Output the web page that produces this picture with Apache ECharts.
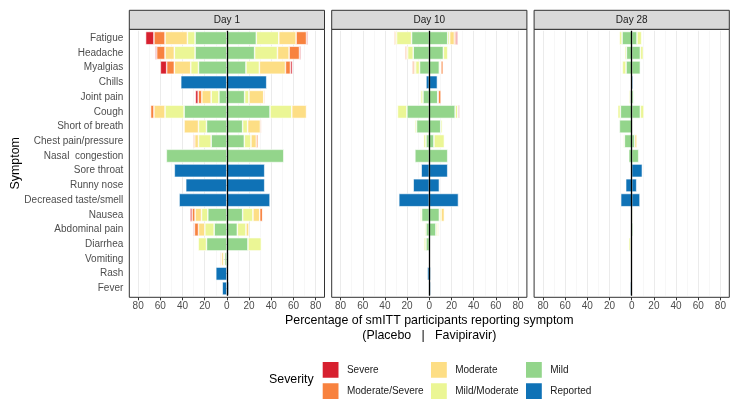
<!DOCTYPE html>
<html><head><meta charset="utf-8">
<script src="https://cdn.jsdelivr.net/npm/echarts@6/dist/echarts.min.js"></script>
<style>html,body{margin:0;padding:0;background:#fff}#c{width:740px;height:408px}</style>
</head><body><div id="c"></div>
<script>
// ---------- DATA ----------
const categories = ['Fatigue','Headache','Myalgias','Chills','Joint pain','Cough','Short of breath','Chest pain/pressure','Nasal  congestion','Sore throat','Runny nose','Decreased taste/smell','Nausea','Abdominal pain','Diarrhea','Vomiting','Rash','Fever'];
const panels = ['Day 1','Day 10','Day 28'];
const severities = ['Mild','Mild/Moderate','Moderate','Moderate/Severe','Severe','Reported'];
const xTicks = [-80,-60,-40,-20,0,20,40,60,80];

// Day 1 — Placebo (shown to the left)
const d1_plc_mild = [28.7,28.7,25.6,0,7.2,38.6,18.4,14.2,54.6,0,0,0,17.2,11.5,18.4,2.0,0,0];
const d1_plc_mm   = [6.9,18.7,7.0,0,7.0,17.2,7.2,11.4,0,0,0,0,5.7,8.4,7.5,1.0,0,0];
const d1_plc_mod  = [20.2,8.4,14.8,0,8.4,10.0,13.0,3.4,0,0,0,0,5.8,5.7,0,2.1,0,0];
const d1_plc_ms   = [10.0,7.5,6.9,0,3.3,3.0,0,1.2,0,0,0,0,2.7,3.7,0,0.9,0,0];
const d1_plc_sev  = [7.5,1.3,5.7,0,2.5,0,0,0,0,0,0,0,1.8,0.9,0,0,0,0];
const d1_plc_rep  = [0,0,0,41.6,0,0,0,0,0,47.4,37.1,43.1,0,0,0,0,10.0,4.2];
// Day 1 — Favipiravir (right)
const d1_fav_mild = [26.5,25.0,17.2,0,16.0,38.9,14.2,15.7,51.3,0,0,0,14.2,9.4,19.0,1.5,0,0];
const d1_fav_mm   = [20.3,20.6,12.1,0,3.9,19.6,4.5,6.0,0,0,0,0,9.3,7.8,12.1,0,0,0];
const d1_fav_mod  = [15.6,10.5,23.5,0,13.3,13.3,11.5,4.8,0,0,0,0,6.1,2.7,0,0,0,0];
const d1_fav_ms   = [9.4,9.4,4.5,0,0.9,0.6,0.9,1.6,0,0,0,0,2.7,0,0,0,0,0];
const d1_fav_sev  = [1.2,1.2,1.8,0,0,0,0,0,0,0,0,0,0.5,0,0,0,0,0];
const d1_fav_rep  = [0,0,0,35.9,0,0,0,0,0,34.1,34.1,38.9,0,0,0,0,0,1.8];

// Day 10 — Placebo
const d10_plc_mild = [16.0,14.5,8.8,0,5.7,20.2,11.5,3.0,13.0,0,0,0,6.9,3.0,3.0,0.5,0,0];
const d10_plc_mm   = [13.5,5.0,3.5,0,2.0,8.5,1.5,2.2,0,0,0,0,1.3,1.2,1.8,0,0,0];
const d10_plc_mod  = [1.5,1.0,1.5,0,0.8,0,0,0.5,0,0,0,0,0,0,0,0,0,0];
const d10_plc_ms   = [1.0,1.3,1.5,0,0,0,0,0,0,0,0,0,0,0,0,0,0,0];
const d10_plc_sev  = [0,0,0,0,0,0,0,0,0,0,0,0,0,0,0,0,0,0];
const d10_plc_rep  = [0,0,0,3.0,0,0,0,0,0,7.3,14.5,27.5,0,0,0,0,1.8,0.6];
// Day 10 — Favipiravir
const d10_fav_mild = [16.6,12.7,9.0,0,7.6,23.3,10.3,4.2,16.6,0,0,0,9.1,6.0,0.5,0,0,0];
const d10_fav_mm   = [1.8,3.9,1.0,0,0,2.4,1.5,9.4,0,0,0,0,1.5,1.5,0,0,0,0];
const d10_fav_mod  = [4.2,0,0.5,0,0.5,0,0,0,0,0,0,0,3.0,1.0,0,0,0,0];
const d10_fav_ms   = [1.5,0,2.0,0,2.5,0.5,0,0,0,0,0,0,0,0,0,0,0,0];
const d10_fav_sev  = [1.5,0,0,0,0,1.0,0,0,0,0,0,0,0,0,0,0,0,0];
const d10_fav_rep  = [0,0,0,7.3,0,0,0,0,0,16.6,9.1,26.3,0,0,0,0,1.2,1.2];

// Day 28 — Placebo
const d28_plc_mild = [8.7,4.8,5.1,0,1.5,10.2,11.1,6.6,2.7,0,0,0,0,0,1.0,0,0,0];
const d28_plc_mm   = [2.4,1.5,3.3,0,1.2,2.4,0,0.9,0,0,0,0,0,0,1.7,0,0,0];
const d28_plc_mod  = [0,0,0,0,0,0,0,0,0,0,0,0,0,0,0,0,0,0];
const d28_plc_ms   = [0,0,0,0,0,0,0,0,0,0,0,0,0,0,0,0,0,0];
const d28_plc_sev  = [0,0,0,0,0,0,0,0,0,0,0,0,0,0,0,0,0,0];
const d28_plc_rep  = [0,0,0,0,0,0,0,0,0,0,5.4,9.9,0,0,0,0,0,1.2];
// Day 28 — Favipiravir
const d28_fav_mild = [4.8,7.8,7.8,0,1.8,7.8,1.0,2.7,6.3,0,0,0,0,1.2,0,0,0,0];
const d28_fav_mm   = [4.2,2.7,0,0,0.6,3.3,0.5,0,0,0,0,0,0.9,0,0,0,0,0];
const d28_fav_mod  = [0,0,0,0,0,0,0,2.1,0,0,0,0,0,0,0,0,0,0];
const d28_fav_ms   = [0,0,0,0,0,0,0,0,0,0,0,0,0,0,0,0,0,0];
const d28_fav_sev  = [0,0,0,0,0,0,0,0,0,0,0,0,0,0,0,0,0,0];
const d28_fav_rep  = [0,0,0,1.2,0,0,0,0,0,9.6,4.5,7.5,0,0,0,0,0,0];

// ---------- STYLE / LAYOUT ----------
const colors = {'Severe':'#D7202F','Moderate/Severe':'#F8823F','Moderate':'#FDDE85','Mild/Moderate':'#EBF695','Mild':'#93D58B','Reported':'#0F72B6'};
const FONT = '"Liberation Sans", Arial, Helvetica, sans-serif';
const plc = [
  [d1_plc_mild,d1_plc_mm,d1_plc_mod,d1_plc_ms,d1_plc_sev,d1_plc_rep],
  [d10_plc_mild,d10_plc_mm,d10_plc_mod,d10_plc_ms,d10_plc_sev,d10_plc_rep],
  [d28_plc_mild,d28_plc_mm,d28_plc_mod,d28_plc_ms,d28_plc_sev,d28_plc_rep]];
const fav = [
  [d1_fav_mild,d1_fav_mm,d1_fav_mod,d1_fav_ms,d1_fav_sev,d1_fav_rep],
  [d10_fav_mild,d10_fav_mm,d10_fav_mod,d10_fav_ms,d10_fav_sev,d10_fav_rep],
  [d28_fav_mild,d28_fav_mm,d28_fav_mod,d28_fav_ms,d28_fav_sev,d28_fav_rep]];

const FW = 195.2, FL = [129.3, 331.7, 534.1], FT = 29.3, FB = 297.3, STRIP_T = 10.3;
const ux = FW / 176, uy = (FB - FT) / 18.2;
const gTop = FT + 0.1 * uy, gH = 18 * uy;

const grids = [], xAxes = [], yAxes = [], series = [], graphics = [];
panels.forEach((name, p) => {
  grids.push({left: FL[p] + 8 * ux, top: gTop, width: 160 * ux, height: gH, containLabel: false});
  xAxes.push({
    type: 'value', gridIndex: p, min: xTicks[0], max: xTicks[xTicks.length-1], interval: 20,
    offset: FB - (gTop + gH),
    axisLine: {show: false},
    axisTick: {show: true, length: 3, lineStyle: {color: '#333333', width: 1}},
    axisLabel: {show: true, fontSize: 10, color: '#4D4D4D', fontFamily: FONT, margin: 4,
      formatter: v => String(Math.abs(v))},
    splitLine: {show: true, lineStyle: {color: '#EBEBEB', width: 1}},
    minorTick: {show: false, splitNumber: 2},
    minorSplitLine: {show: true, lineStyle: {color: '#F2F2F2', width: 0.6}}
  });
  yAxes.push({
    type: 'category', gridIndex: p, data: categories, inverse: true,
    offset: 8 * ux,
    axisLine: {show: false},
    axisTick: {show: p === 0, alignWithLabel: true, length: 3, lineStyle: {color: '#333333', width: 1}},
    axisLabel: {show: p === 0, fontSize: 10, color: '#4D4D4D', fontFamily: FONT, margin: 6},
    splitLine: {show: false}
  });
  const addSeries = (arrs, sign) => {
    severities.forEach((sv, k) => {
      series.push({
        type: 'bar', name: sv, stack: 'st' + p, xAxisIndex: p, yAxisIndex: p,
        barWidth: '90%', silent: true,
        itemStyle: {color: colors[sv], borderColor: '#FFFFFF', borderWidth: 0.6},
        data: arrs[k].map(v => v ? sign * v : null)
      });
    });
  };
  addSeries(plc[p], -1);
  addSeries(fav[p], 1);
  series[series.length - 1].markLine = {
    silent: true, symbol: ['none','none'], label: {show: false},
    lineStyle: {color: '#000000', width: 1.3, type: 'solid'},
    data: [{xAxis: 0}]
  };
  // panel frame and strip
  graphics.push({type: 'rect', z: 100, shape: {x: FL[p], y: FT, width: FW, height: FB - FT},
    style: {fill: 'none', stroke: '#333333', lineWidth: 1}});
  graphics.push({type: 'rect', z: 100, shape: {x: FL[p], y: STRIP_T, width: FW, height: FT - STRIP_T},
    style: {fill: '#D9D9D9', stroke: '#333333', lineWidth: 1}});
  graphics.push({type: 'text', z: 101, x: FL[p] + FW / 2, y: (STRIP_T + FT) / 2,
    style: {text: name, fill: '#1A1A1A', font: '10px ' + FONT, align: 'center', verticalAlign: 'middle',
      textAlign: 'center', textVerticalAlign: 'middle'}});
});

const xMid = (FL[0] + FL[2] + FW) / 2;
graphics.push({type: 'text', x: xMid, y: 320.7, style: {text: 'Percentage of smITT participants reporting symptom',
  fill: '#000000', font: '12.4px ' + FONT, align: 'center', verticalAlign: 'middle', textAlign: 'center', textVerticalAlign: 'middle'}});
graphics.push({type: 'text', x: xMid, y: 335.2, style: {text: '(Placebo   |   Favipiravir)',
  fill: '#000000', font: '12.4px ' + FONT, align: 'center', verticalAlign: 'middle', textAlign: 'center', textVerticalAlign: 'middle'}});
graphics.push({type: 'text', x: 15.5, y: (FT + FB) / 2, rotation: Math.PI / 2, style: {text: 'Symptom',
  fill: '#000000', font: '12.4px ' + FONT, align: 'center', verticalAlign: 'middle', textAlign: 'center', textVerticalAlign: 'middle'}});
graphics.push({type: 'text', x: 269, y: 379.5, style: {text: 'Severity',
  fill: '#000000', font: '12.4px ' + FONT, align: 'left', verticalAlign: 'middle', textAlign: 'left', textVerticalAlign: 'middle'}});

const legendCols = [['Severe','Moderate/Severe'],['Moderate','Mild/Moderate'],['Mild','Reported']];
const legendLeft = [320.7, 429, 524];
const legends = legendCols.map((d, i) => ({
  data: d, orient: 'vertical', left: legendLeft[i], top: 360, padding: 0,
  itemWidth: 17.8, itemHeight: 17.8, itemGap: 1.4, icon: 'rect', selectedMode: false,
  textStyle: {fontSize: 10, color: '#1A1A1A', fontFamily: FONT, padding: [0,0,0,2.4]}
}));

const chart = echarts.init(document.getElementById('c'), null, {renderer: 'canvas'});
chart.setOption({
  animation: false, backgroundColor: '#FFFFFF',
  textStyle: {fontFamily: FONT},
  grid: grids, xAxis: xAxes, yAxis: yAxes, series: series, legend: legends, graphic: graphics
});
</script></body></html>
